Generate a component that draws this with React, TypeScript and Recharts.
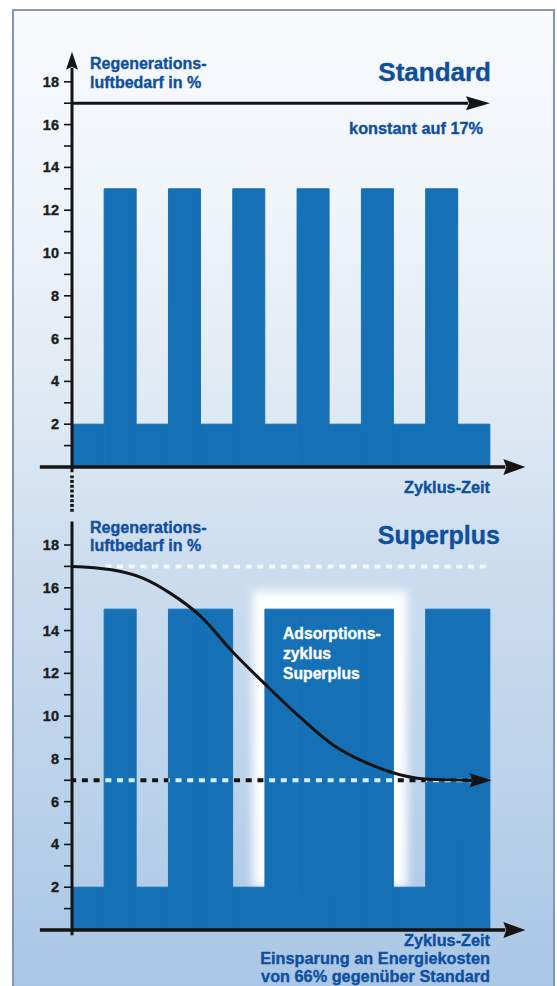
import React from 'react';
import { ComposedChart, Bar, Line, XAxis, YAxis, ReferenceLine, ReferenceArea } from 'recharts';

// ---------- data ----------
const segments = ['T1', 'T2', 'T3', 'T4', 'T5', 'T6', 'T7', 'T8', 'T9', 'T10', 'T11', 'T12', 'T13'];
const standardValues = [2, 13, 2, 13, 2, 13, 2, 13, 2, 13, 2, 13, 2];
const superplusValues = [2, 15, 2, 15, 15, 2, 15, 15, 15, 15, 2, 15, 15];
const yTicks = [1, 2, 3, 4, 5, 6, 7, 8, 9, 10, 11, 12, 13, 14, 15, 16, 17, 18];
const standardLevel = 17;
const superplusUpper = 17;
const superplusLower = 7;
const curveTime = [0, 1.18, 2.2, 3.05, 3.98, 5.0, 6.07, 7.09, 8.12, 9.18, 9.98, 10.73, 11.76, 12.45];
const curveValue = [17, 16.85, 16.45, 15.75, 14.7, 13.0, 11.4, 9.95, 8.65, 7.8, 7.35, 7.1, 7.02, 7.0];

const standardData = segments.map((s, i) => ({ segment: s, value: standardValues[i] }));
const superplusData = segments.map((s, i) => ({ segment: s, value: superplusValues[i] }));
const curveData = curveTime.map((t, i) => ({ t, value: curveValue[i] }));
const lowGaps = superplusValues.map((v, i) => (v === 2 ? i : -1)).filter((i) => i >= 0);

// ---------- styles ----------
const BLUE = '#1570b5';
const TEXT_BLUE = '#0e4f9e';
const INK = '#141414';
const FONT = '"Liberation Sans", Arial, sans-serif';
const N = segments.length;

const arrowShape = (head: number, half: number, color: string, width: number) => (p: any) => {
  const { x1, y1, x2, y2 } = p;
  const dx = x2 - x1;
  const dy = y2 - y1;
  const len = Math.hypot(dx, dy) || 1;
  const ux = dx / len;
  const uy = dy / len;
  const bx = x2 - ux * head;
  const by = y2 - uy * head;
  const px = -uy;
  const py = ux;
  return (
    <g>
      <line x1={x1} y1={y1} x2={bx + ux * 2} y2={by + uy * 2} stroke={color} strokeWidth={width} />
      <polygon
        points={`${x2},${y2} ${bx + px * half},${by + py * half} ${bx + ux * 3},${by + uy * 3} ${bx - px * half},${by - py * half}`}
        fill={color}
      />
    </g>
  );
};

const plainShape = (color: string, width: number, dash?: string) => (p: any) => (
  <line
    x1={p.x1}
    y1={p.y1}
    x2={p.x2}
    y2={p.y2}
    stroke={color}
    strokeWidth={width}
    strokeDasharray={dash}
    strokeDashoffset={dash ? (p.x1 === p.x2 ? p.y1 : p.x1) : undefined}
  />
);

const YTick = (props: any) => {
  const { x, y, payload } = props;
  if (payload.value % 2 !== 0) return null;
  return (
    <text
      x={x}
      y={y}
      dy={5}
      textAnchor="end"
      fontFamily={FONT}
      fontWeight={700}
      fontSize={14.5}
      fill="#1e1e1e"
      stroke="#1e1e1e"
      strokeWidth={0.4}
    >
      {payload.value}
    </text>
  );
};

const glowShape = (p: any) => (
  <rect x={p.x} y={p.y} width={p.width} height={p.height} fill="#ffffff" filter="url(#glowBlur)" />
);

const yAxisProps = {
  type: 'number' as const,
  domain: [0, 18],
  ticks: yTicks,
  interval: 0 as const,
  width: 40,
  axisLine: false,
  tickLine: { stroke: INK, strokeWidth: 1.6 },
  tickSize: 8,
  tickMargin: 5,
  tick: <YTick />,
  allowDataOverflow: true,
};

function StandardChart() {
  return (
    <ComposedChart
      width={557}
      height={520}
      data={standardData}
      barCategoryGap={0}
      barGap={0}
      margin={{ top: 81.8, right: 67, bottom: 53, left: 32 }}
    >
      <XAxis xAxisId="cat" dataKey="segment" hide />
      <XAxis xAxisId="num" type="number" dataKey="t" domain={[0, N]} allowDataOverflow hide />
      <YAxis {...yAxisProps} />
      <Bar xAxisId="cat" dataKey="value" fill={BLUE} stroke={BLUE} strokeWidth={1} isAnimationActive={false} />
      <ReferenceLine
        xAxisId="num"
        ifOverflow="visible"
        segment={[{ x: 0, y: standardLevel }, { x: N, y: standardLevel }]}
        shape={arrowShape(24, 7, INK, 3)}
      />
      <ReferenceLine
        xAxisId="num"
        ifOverflow="visible"
        segment={[{ x: 0, y: -0.25 }, { x: 0, y: 19.4 }]}
        shape={arrowShape(18, 6, INK, 3)}
      />
      <ReferenceLine
        xAxisId="num"
        ifOverflow="visible"
        segment={[{ x: -1, y: 0 }, { x: 14.1, y: 0 }]}
        shape={arrowShape(22, 8, INK, 3.5)}
      />
      <ReferenceLine
        xAxisId="num"
        ifOverflow="visible"
        segment={[{ x: 0, y: -0.4 }, { x: 0, y: -2.15 }]}
        shape={plainShape(INK, 3.5, '3 1.8')}
      />
    </ComposedChart>
  );
}

function SuperplusChart() {
  return (
    <ComposedChart
      width={557}
      height={486}
      data={superplusData}
      barCategoryGap={0}
      barGap={0}
      margin={{ top: 45, right: 67, bottom: 56, left: 32 }}
    >
      <XAxis xAxisId="cat" dataKey="segment" hide />
      <XAxis xAxisId="num" type="number" dataKey="t" domain={[0, N]} allowDataOverflow hide />
      <YAxis {...yAxisProps} />
      <ReferenceArea
        xAxisId="num"
        x1={5.62}
        x2={10.42}
        y1={2}
        y2={15.85}
        ifOverflow="visible"
        shape={glowShape}
      />
      <Bar xAxisId="cat" dataKey="value" fill={BLUE} stroke={BLUE} strokeWidth={1} isAnimationActive={false} />
      <ReferenceLine
        xAxisId="num"
        ifOverflow="visible"
        segment={[{ x: 1.0, y: superplusUpper }, { x: 12.9, y: superplusUpper }]}
        shape={plainShape('#f3f8fd', 4, '6 5.7')}
      />
      <ReferenceLine
        xAxisId="num"
        ifOverflow="visible"
        segment={[{ x: 0, y: superplusLower }, { x: 12.4, y: superplusLower }]}
        shape={plainShape('#d6eefb', 4, '6 5.7')}
      />
      {lowGaps.map((g) => (
        <ReferenceLine
          key={g}
          xAxisId="num"
          ifOverflow="visible"
          segment={[{ x: g, y: superplusLower }, { x: g + 1, y: superplusLower }]}
          shape={plainShape(INK, 4, '6 5.7')}
        />
      ))}
      <Line
        xAxisId="num"
        data={curveData}
        dataKey="value"
        type="monotone"
        stroke={INK}
        strokeWidth={3}
        dot={false}
        isAnimationActive={false}
      />
      <ReferenceLine
        xAxisId="num"
        ifOverflow="visible"
        segment={[{ x: 12.2, y: superplusLower }, { x: 13.05, y: superplusLower }]}
        shape={arrowShape(22, 7, INK, 3)}
      />
      <ReferenceLine
        xAxisId="num"
        ifOverflow="visible"
        segment={[{ x: 0, y: -0.25 }, { x: 0, y: 19.1 }]}
        shape={plainShape(INK, 3)}
      />
      <ReferenceLine
        xAxisId="num"
        ifOverflow="visible"
        segment={[{ x: -1, y: 0 }, { x: 14.1, y: 0 }]}
        shape={arrowShape(22, 8, INK, 3.5)}
      />
    </ComposedChart>
  );
}

type T = { text: string; x: number; y: number; size: number; anchor?: 'start' | 'end'; color?: string };
const texts: T[] = [
  { text: 'Regenerations-', x: 90, y: 69, size: 16 },
  { text: 'luftbedarf in %', x: 90, y: 88, size: 16 },
  { text: 'Standard', x: 491, y: 81, size: 26 },
  { text: 'konstant auf 17%', x: 483, y: 134, size: 16.3 },
  { text: 'Zyklus-Zeit', x: 490, y: 493, size: 16.3 },
  { text: 'Regenerations-', x: 90, y: 533, size: 16 },
  { text: 'luftbedarf in %', x: 90, y: 551, size: 16 },
  { text: 'Superplus', x: 500, y: 544, size: 25 },
  { text: 'Adsorptions-', x: 283, y: 639, size: 15.7, color: '#ffffff' },
  { text: 'zyklus', x: 283, y: 659, size: 15.7, color: '#ffffff' },
  { text: 'Superplus', x: 283, y: 679, size: 15.7, color: '#ffffff' },
  { text: 'Zyklus-Zeit', x: 490, y: 946, size: 16.3 },
  { text: 'Einsparung an Energiekosten', x: 490, y: 964, size: 16.3 },
  { text: 'von 66% gegenüber Standard', x: 490, y: 982, size: 16.3 },
];
const anchors: Record<number, 'start' | 'end'> = { 2: 'end', 3: 'end', 4: 'end', 7: 'end', 11: 'end', 12: 'end', 13: 'end' };

export default function App() {
  return (
    <div style={{ position: 'absolute', left: 0, top: 0, width: 557, height: 986, overflow: 'hidden', background: '#ffffff' }}>
      <svg width={0} height={0} style={{ position: 'absolute' }}>
        <defs>
          <filter id="glowBlur" x="-30%" y="-30%" width="160%" height="160%">
            <feGaussianBlur stdDeviation="5" />
          </filter>
        </defs>
      </svg>
      <div
        style={{
          position: 'absolute',
          left: 12,
          top: 9,
          width: 539,
          height: 990,
          borderTop: '2px solid #8d9bb0',
          borderLeft: '2px solid #8096b6',
          borderRight: '2px solid #8096b6',
          background:
            'linear-gradient(to bottom, #f8fafd 0%, #eff4f9 20%, #dde8f3 42%, #cbdcee 57%, #bcd3eb 77%, #b0cbe7 91%, #a8c6e5 100%)',
        }}
      />
      <div style={{ position: 'absolute', left: 0, top: 0 }}>
        <StandardChart />
      </div>
      <div style={{ position: 'absolute', left: 0, top: 500 }}>
        <SuperplusChart />
      </div>
      <svg width={557} height={986} style={{ position: 'absolute', left: 0, top: 0, pointerEvents: 'none' }}>
        {texts.map((t, i) => {
          const color = t.color || TEXT_BLUE;
          return (
            <text
              key={i}
              x={t.x}
              y={t.y}
              textAnchor={anchors[i] || 'start'}
              fontFamily={FONT}
              fontWeight={700}
              fontSize={t.size}
              fill={color}
              stroke={color}
              strokeWidth={0.35}
            >
              {t.text}
            </text>
          );
        })}
      </svg>
    </div>
  );
}
